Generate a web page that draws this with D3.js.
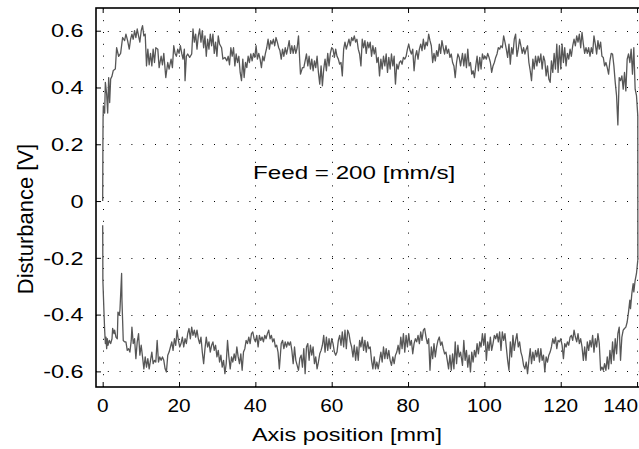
<!DOCTYPE html>
<meta charset="utf-8">
<script src="https://d3js.org/d3.v7.min.js"></script>
<style>
  body { margin: 0; background: #fff; }
  text { font-family: "Liberation Sans", Arial, sans-serif; fill: #000; }
</style>
<div id="my_dataviz"></div>
<script>
// Tick values
var xTicks = [0, 20, 40, 60, 80, 100, 120, 140];
var yTicks = [-0.6, -0.4, -0.2, 0, 0.2, 0.4, 0.6];

// Forward pass (upper trace): [axis position mm, disturbance V]
var upper = [
  [0.0,0.0],[0.05,0.18],[0.1,0.29],[0.17,0.335],[0.52,0.31],[0.70,0.418],[1.04,0.377],[1.31,0.31],
  [1.57,0.435],[1.83,0.347],[2.09,0.43],[2.44,0.44],[2.78,0.46],[3.31,0.465],[3.65,0.54],[4.18,0.51],
  [4.70,0.52],[5.22,0.576],[5.74,0.565],[6.09,0.588],[6.53,0.565],[6.96,0.535],[7.31,0.57],[7.66,0.588],
  [8.00,0.57],[8.35,0.6],[8.70,0.576],[9.05,0.606],[9.40,0.582],[9.74,0.56],[10.09,0.6],[10.44,0.618],
  [10.79,0.582],[11.14,0.588],[11.48,0.476],[11.83,0.535],[12.18,0.48],[12.53,0.52],[12.88,0.476],[13.22,0.535],
  [13.57,0.488],[13.92,0.54],[14.44,0.535],[14.79,0.47],[15.31,0.51],[15.66,0.48],[16.01,0.52],[16.53,0.435],
  [17.05,0.488],[17.40,0.465],[17.92,0.5],[18.27,0.47],[18.62,0.547],[18.97,0.52],[19.31,0.51],[19.66,0.535],
  [20.01,0.52],[20.36,0.547],[20.71,0.52],[21.05,0.5],[21.40,0.535],[21.58,0.424],[21.92,0.51],[22.27,0.518],
  [22.79,0.506],[23.32,0.518],[23.66,0.606],[24.01,0.56],[24.36,0.588],[24.71,0.535],[25.06,0.582],[25.40,0.606],
  [25.75,0.56],[26.10,0.6],[26.45,0.54],[26.80,0.582],[27.14,0.51],[27.49,0.57],[27.84,0.535],[28.19,0.588],
  [28.54,0.547],[28.88,0.588],[29.23,0.52],[29.58,0.56],[29.93,0.51],[30.28,0.582],[30.62,0.553],[31.15,0.54],
  [31.49,0.5],[32.02,0.506],[32.54,0.494],[32.89,0.51],[33.23,0.48],[33.58,0.54],[33.93,0.51],[34.28,0.54],
  [34.63,0.476],[34.97,0.518],[35.32,0.488],[35.67,0.51],[36.02,0.453],[36.37,0.424],[36.71,0.5],[37.06,0.435],
  [37.41,0.488],[37.76,0.47],[38.11,0.51],[38.45,0.488],[38.80,0.518],[39.15,0.494],[39.50,0.52],[39.85,0.506],
  [40.19,0.547],[40.54,0.5],[40.89,0.52],[41.24,0.5],[41.59,0.47],[41.93,0.51],[42.28,0.494],[42.63,0.52],
  [42.98,0.54],[43.33,0.57],[43.67,0.535],[44.02,0.565],[44.37,0.553],[44.72,0.57],[45.07,0.547],[45.41,0.576],
  [45.76,0.56],[46.11,0.54],[46.43,0.53],[46.78,0.5],[47.12,0.535],[47.47,0.51],[47.82,0.54],[48.17,0.518],
  [48.52,0.54],[48.86,0.565],[49.21,0.52],[49.56,0.547],[49.91,0.52],[50.26,0.547],[50.60,0.52],[50.95,0.54],
  [51.30,0.582],[51.65,0.488],[51.82,0.447],[52.34,0.47],[52.69,0.47],[53.04,0.494],[53.39,0.518],[53.74,0.476],
  [54.08,0.51],[54.43,0.465],[54.78,0.5],[55.13,0.459],[55.48,0.494],[55.82,0.47],[56.17,0.51],[56.52,0.453],
  [56.87,0.412],[57.22,0.476],[57.56,0.406],[57.91,0.465],[58.26,0.5],[58.61,0.459],[58.96,0.52],[59.30,0.476],
  [59.65,0.52],[60.00,0.54],[60.35,0.535],[60.70,0.506],[61.04,0.535],[61.39,0.51],[61.74,0.5],[62.09,0.482],
  [62.44,0.488],[62.78,0.441],[63.13,0.535],[63.48,0.56],[63.83,0.535],[64.18,0.553],[64.52,0.57],[64.87,0.547],
  [65.22,0.576],[65.57,0.565],[65.92,0.582],[66.26,0.56],[66.61,0.57],[66.96,0.535],[67.31,0.518],[67.66,0.476],
  [68.00,0.57],[68.35,0.54],[68.70,0.565],[69.05,0.52],[69.40,0.56],[69.74,0.54],[70.09,0.56],[70.44,0.51],
  [70.79,0.547],[71.14,0.518],[71.48,0.54],[71.83,0.488],[72.18,0.506],[72.53,0.441],[72.88,0.5],[73.22,0.465],
  [73.57,0.51],[73.92,0.476],[74.27,0.518],[74.62,0.453],[74.96,0.506],[75.31,0.465],[75.66,0.518],[76.01,0.476],
  [76.36,0.51],[76.53,0.453],[76.70,0.412],[77.05,0.482],[77.40,0.465],[77.75,0.488],[78.10,0.494],[78.44,0.482],
  [78.79,0.506],[79.14,0.5],[79.49,0.51],[79.84,0.535],[80.18,0.553],[80.53,0.53],[80.88,0.518],[81.23,0.535],
  [81.58,0.459],[81.92,0.51],[82.27,0.53],[82.62,0.5],[82.97,0.535],[83.32,0.553],[83.66,0.53],[84.01,0.57],
  [84.36,0.535],[84.71,0.56],[85.06,0.547],[85.40,0.588],[85.75,0.565],[86.10,0.547],[86.45,0.488],[86.80,0.52],
  [87.14,0.494],[87.49,0.53],[87.84,0.51],[88.19,0.553],[88.54,0.52],[88.88,0.565],[89.23,0.54],[89.58,0.518],
  [89.93,0.547],[90.28,0.52],[90.62,0.535],[90.97,0.506],[91.32,0.518],[91.67,0.488],[92.02,0.476],[92.36,0.435],
  [92.71,0.488],[93.06,0.518],[93.41,0.506],[93.76,0.476],[94.26,0.52],[94.61,0.476],[94.95,0.518],[95.30,0.47],
  [95.65,0.535],[96.00,0.476],[96.35,0.488],[96.69,0.447],[97.04,0.459],[97.39,0.435],[97.74,0.476],[98.09,0.51],
  [98.43,0.459],[98.78,0.506],[99.13,0.465],[99.48,0.518],[99.83,0.5],[100.17,0.51],[100.52,0.5],[100.87,0.52],
  [101.22,0.506],[101.57,0.488],[101.91,0.453],[102.26,0.476],[102.61,0.488],[102.96,0.506],[103.31,0.518],[103.65,0.54],
  [104.00,0.535],[104.35,0.547],[104.70,0.54],[105.05,0.582],[105.39,0.56],[105.74,0.535],[106.09,0.506],[106.44,0.553],
  [106.79,0.482],[107.13,0.54],[107.48,0.518],[107.83,0.57],[108.18,0.588],[108.53,0.51],[108.87,0.535],[109.22,0.57],
  [109.57,0.547],[109.92,0.52],[110.27,0.54],[110.61,0.518],[110.96,0.535],[111.31,0.547],[111.66,0.488],[112.01,0.459],
  [112.35,0.424],[112.70,0.5],[113.05,0.465],[113.40,0.51],[113.75,0.476],[114.09,0.51],[114.44,0.488],[114.79,0.518],
  [115.14,0.465],[115.49,0.51],[115.83,0.494],[116.18,0.441],[116.53,0.476],[116.88,0.43],[117.23,0.418],[117.57,0.494],
  [117.92,0.453],[118.27,0.52],[118.62,0.465],[118.97,0.553],[119.31,0.453],[119.66,0.547],[120.01,0.465],[120.36,0.553],
  [120.71,0.488],[121.05,0.54],[121.40,0.476],[121.75,0.52],[122.10,0.5],[122.45,0.535],[122.79,0.51],[123.14,0.547],
  [123.49,0.57],[123.84,0.547],[124.19,0.582],[124.53,0.56],[124.88,0.588],[125.23,0.54],[125.58,0.594],[125.93,0.553],
  [126.27,0.52],[126.62,0.54],[126.97,0.52],[127.32,0.54],[127.67,0.51],[128.01,0.54],[128.36,0.52],[128.71,0.582],
  [129.06,0.553],[129.41,0.518],[129.75,0.565],[130.10,0.535],[130.45,0.56],[130.80,0.51],[131.15,0.506],[131.49,0.476],
  [131.84,0.488],[132.19,0.47],[132.54,0.447],[132.89,0.494],[133.23,0.52],[133.58,0.518],[133.93,0.476],[134.28,0.418],
  [134.63,0.371],[134.97,0.268],[135.32,0.435],[135.67,0.424],[136.02,0.441],[136.37,0.394],[136.71,0.453],[137.06,0.388],
  [137.41,0.5],[137.76,0.518],[138.11,0.488],[138.45,0.535],[138.80,0.447],[139.15,0.54],[139.50,0.394],[139.85,0.371],
  [140.19,0.3],[140.21,-0.208]
];

// Return pass (lower trace): [axis position mm, disturbance V]
var lower = [
  [0.0,-0.085],[0.03,-0.18],[0.05,-0.279],[0.17,-0.326],[0.35,-0.396],[0.52,-0.455],[0.70,-0.502],[0.87,-0.479],
  [1.04,-0.520],[1.22,-0.485],[1.39,-0.508],[1.74,-0.491],[2.09,-0.502],[2.44,-0.485],[2.61,-0.449],[2.96,-0.467],
  [3.13,-0.455],[3.48,-0.479],[3.83,-0.485],[4.00,-0.391],[4.35,-0.402],[4.52,-0.385],[4.96,-0.255],[5.05,-0.349],
  [5.22,-0.420],[5.39,-0.491],[5.74,-0.496],[6.09,-0.496],[6.44,-0.526],[6.79,-0.520],[7.13,-0.532],[7.48,-0.491],
  [7.66,-0.444],[8.00,-0.502],[8.35,-0.485],[8.70,-0.555],[9.05,-0.496],[9.40,-0.467],[9.74,-0.543],[10.09,-0.508],
  [10.44,-0.549],[10.79,-0.591],[11.14,-0.549],[11.48,-0.585],[11.83,-0.555],[12.18,-0.591],[12.53,-0.561],[12.88,-0.532],
  [13.22,-0.573],[13.57,-0.561],[13.92,-0.567],[14.27,-0.491],[14.62,-0.567],[14.96,-0.549],[15.31,-0.561],[15.66,-0.549],
  [16.01,-0.561],[16.36,-0.591],[16.70,-0.602],[17.05,-0.543],[17.40,-0.532],[17.75,-0.514],[18.10,-0.496],[18.44,-0.526],
  [18.79,-0.485],[19.14,-0.508],[19.49,-0.455],[19.84,-0.491],[20.18,-0.514],[20.53,-0.502],[20.88,-0.479],[21.23,-0.514],
  [21.58,-0.485],[21.92,-0.502],[22.27,-0.467],[22.62,-0.449],[22.97,-0.485],[23.32,-0.444],[23.66,-0.473],[24.01,-0.455],
  [24.36,-0.479],[24.71,-0.455],[25.06,-0.485],[25.40,-0.502],[25.75,-0.479],[26.10,-0.532],[26.45,-0.573],[26.80,-0.520],
  [27.14,-0.479],[27.49,-0.514],[27.84,-0.496],[28.19,-0.532],[28.54,-0.508],[28.88,-0.496],[29.23,-0.526],[29.58,-0.508],
  [29.93,-0.549],[30.28,-0.526],[30.62,-0.567],[30.97,-0.543],[31.32,-0.585],[31.67,-0.561],[32.02,-0.608],[32.36,-0.573],
  [32.71,-0.491],[33.06,-0.549],[33.41,-0.591],[33.76,-0.549],[34.10,-0.567],[34.45,-0.538],[34.80,-0.561],[35.15,-0.514],
  [35.50,-0.549],[35.84,-0.573],[36.19,-0.538],[36.54,-0.596],[36.89,-0.532],[37.24,-0.520],[37.58,-0.491],[37.93,-0.502],
  [38.28,-0.479],[38.63,-0.502],[38.98,-0.467],[39.32,-0.461],[39.67,-0.485],[40.02,-0.496],[40.37,-0.473],[40.72,-0.514],
  [41.06,-0.473],[41.41,-0.491],[41.76,-0.479],[42.11,-0.496],[42.46,-0.473],[42.80,-0.485],[43.15,-0.467],[43.50,-0.455],
  [43.85,-0.485],[44.20,-0.473],[44.54,-0.496],[44.89,-0.485],[45.24,-0.514],[45.59,-0.508],[45.94,-0.532],[46.28,-0.591],
  [46.78,-0.502],[47.12,-0.491],[47.47,-0.520],[47.82,-0.496],[48.17,-0.514],[48.52,-0.496],[48.86,-0.508],[49.21,-0.496],
  [49.56,-0.526],[49.91,-0.573],[50.26,-0.514],[50.60,-0.561],[50.95,-0.579],[51.30,-0.596],[51.65,-0.555],[52.00,-0.543],
  [52.34,-0.585],[52.69,-0.520],[53.04,-0.608],[53.39,-0.514],[53.74,-0.502],[54.08,-0.561],[54.43,-0.508],[54.78,-0.543],
  [55.13,-0.514],[55.48,-0.573],[55.82,-0.549],[56.17,-0.591],[56.52,-0.567],[56.87,-0.538],[57.22,-0.526],[57.56,-0.508],
  [57.91,-0.473],[58.26,-0.532],[58.61,-0.479],[58.96,-0.526],[59.30,-0.485],[59.65,-0.520],[60.00,-0.485],[60.35,-0.502],
  [60.70,-0.532],[61.04,-0.543],[61.39,-0.532],[61.74,-0.491],[62.09,-0.473],[62.44,-0.508],[62.78,-0.461],[63.13,-0.514],
  [63.48,-0.455],[63.83,-0.520],[64.18,-0.455],[64.52,-0.467],[64.87,-0.496],[65.22,-0.514],[65.57,-0.549],[65.92,-0.508],
  [66.26,-0.561],[66.61,-0.514],[66.96,-0.561],[67.31,-0.491],[67.66,-0.514],[68.00,-0.479],[68.35,-0.526],[68.70,-0.491],
  [69.05,-0.532],[69.40,-0.496],[69.74,-0.520],[70.09,-0.514],[70.44,-0.561],[70.79,-0.591],[71.14,-0.549],[71.48,-0.591],
  [71.83,-0.567],[72.18,-0.591],[72.53,-0.561],[72.88,-0.532],[73.22,-0.567],[73.57,-0.514],[73.92,-0.555],[74.27,-0.520],
  [74.62,-0.555],[74.96,-0.526],[75.31,-0.561],[75.66,-0.579],[76.01,-0.549],[76.36,-0.573],[76.70,-0.543],[77.05,-0.532],
  [77.40,-0.508],[77.75,-0.538],[78.10,-0.479],[78.44,-0.520],[78.79,-0.467],[79.14,-0.532],[79.49,-0.473],[79.84,-0.514],
  [80.18,-0.467],[80.53,-0.508],[80.88,-0.491],[81.23,-0.538],[81.58,-0.502],[81.92,-0.485],[82.27,-0.496],[82.62,-0.473],
  [82.97,-0.502],[83.32,-0.461],[83.66,-0.491],[84.01,-0.455],[84.36,-0.449],[84.71,-0.479],[85.06,-0.502],[85.40,-0.485],
  [85.75,-0.596],[86.10,-0.514],[86.45,-0.555],[86.80,-0.502],[87.14,-0.549],[87.49,-0.514],[87.84,-0.491],[88.19,-0.479],
  [88.54,-0.508],[88.88,-0.496],[89.23,-0.520],[89.58,-0.538],[89.93,-0.532],[90.28,-0.561],[90.62,-0.591],[90.97,-0.543],
  [91.32,-0.596],[91.67,-0.538],[92.02,-0.591],[92.36,-0.496],[92.71,-0.573],[93.06,-0.508],[93.41,-0.549],[93.76,-0.532],
  [94.26,-0.579],[94.61,-0.491],[94.95,-0.561],[95.30,-0.526],[95.65,-0.585],[96.00,-0.543],[96.35,-0.602],[96.69,-0.532],
  [97.04,-0.567],[97.39,-0.526],[97.74,-0.549],[98.09,-0.502],[98.43,-0.538],[98.78,-0.496],[99.13,-0.514],[99.48,-0.467],
  [99.83,-0.508],[100.17,-0.467],[100.52,-0.561],[100.87,-0.496],[101.22,-0.526],[101.57,-0.479],[101.91,-0.526],[102.26,-0.502],
  [102.61,-0.473],[102.96,-0.485],[103.31,-0.467],[103.65,-0.496],[104.00,-0.461],[104.35,-0.526],[104.70,-0.461],[105.05,-0.491],
  [105.39,-0.467],[105.74,-0.514],[106.09,-0.561],[106.44,-0.596],[106.79,-0.496],[107.13,-0.549],[107.48,-0.473],[107.83,-0.526],
  [108.18,-0.491],[108.53,-0.467],[108.87,-0.514],[109.22,-0.496],[109.57,-0.532],[109.92,-0.549],[110.27,-0.579],[110.61,-0.591],
  [110.96,-0.567],[111.31,-0.608],[111.66,-0.561],[112.01,-0.520],[112.35,-0.573],[112.70,-0.532],[113.05,-0.561],[113.40,-0.526],
  [113.75,-0.549],[114.09,-0.520],[114.44,-0.567],[114.79,-0.520],[115.14,-0.561],[115.49,-0.543],[115.83,-0.602],[116.18,-0.549],
  [116.53,-0.567],[116.88,-0.543],[117.23,-0.532],[117.57,-0.514],[117.92,-0.485],[118.27,-0.502],[118.62,-0.479],[118.97,-0.520],
  [119.31,-0.491],[119.66,-0.496],[120.01,-0.485],[120.36,-0.508],[120.71,-0.555],[121.05,-0.502],[121.40,-0.514],[121.75,-0.496],
  [122.10,-0.508],[122.45,-0.479],[122.79,-0.473],[123.14,-0.491],[123.49,-0.455],[123.84,-0.479],[124.19,-0.496],[124.53,-0.467],
  [124.88,-0.502],[125.23,-0.485],[125.58,-0.514],[125.93,-0.561],[126.27,-0.514],[126.62,-0.561],[126.97,-0.496],[127.32,-0.526],
  [127.67,-0.491],[128.01,-0.514],[128.36,-0.473],[128.71,-0.532],[129.06,-0.485],[129.41,-0.514],[129.75,-0.467],[130.10,-0.502],
  [130.45,-0.596],[130.80,-0.585],[131.15,-0.596],[131.49,-0.573],[131.84,-0.596],[132.19,-0.549],[132.54,-0.591],[132.89,-0.526],
  [133.23,-0.573],[133.58,-0.496],[133.93,-0.561],[134.28,-0.485],[134.63,-0.538],[134.97,-0.467],[135.32,-0.444],[135.67,-0.561],
  [136.02,-0.479],[136.37,-0.455],[136.71,-0.449],[137.06,-0.444],[137.41,-0.426],[137.76,-0.391],[138.11,-0.349],[138.28,-0.379],
  [138.63,-0.326],[138.98,-0.291],[139.15,-0.320],[139.50,-0.279],[139.85,-0.255],[140.19,-0.208]
];

// Frame of the axes (the right side runs past the picture edge)
var W = 639, H = 449;
var box = {left: 96, right: 644.7, top: 8, bottom: 387};
var sx = 1.26; // text in the picture is stretched sideways

var svg = d3.select("#my_dataviz")
  .append("svg")
    .attr("width", W)
    .attr("height", H);

var x = d3.scaleLinear().domain([-1.75, 142]).range([box.left, box.right]);
var y = d3.scaleLinear().domain([-0.655, 0.68]).range([box.bottom, box.top]);

// Dotted grid
svg.append("g").selectAll("line").data(yTicks).join("line")
  .attr("x1", box.left).attr("x2", box.right)
  .attr("y1", d => Math.round(y(d)) + 0.5).attr("y2", d => Math.round(y(d)) + 0.5)
  .attr("stroke", "#000").attr("stroke-dasharray", "1,10.8");
svg.append("g").selectAll("line").data(xTicks).join("line")
  .attr("y1", box.bottom).attr("y2", box.top)
  .attr("x1", d => Math.round(x(d)) + 0.5).attr("x2", d => Math.round(x(d)) + 0.5)
  .attr("stroke", "#000").attr("stroke-dasharray", "1,10.8");

// Data
var line = d3.line().x(d => x(d[0])).y(d => y(d[1]));
[upper, lower].forEach(function(s) {
  svg.append("path")
    .datum(s)
    .attr("fill", "none")
    .attr("stroke", "#575757")
    .attr("stroke-width", 1.3)
    .attr("stroke-linejoin", "round")
    .attr("d", line);
});

// Ticks pointing inward
svg.append("g").attr("transform", "translate(0," + box.bottom + ")")
  .call(d3.axisBottom(x).tickValues(xTicks).tickSize(-5).tickFormat(""));
svg.append("g").attr("transform", "translate(0," + box.top + ")")
  .call(d3.axisTop(x).tickValues(xTicks).tickSize(-5).tickFormat(""));
svg.append("g").attr("transform", "translate(" + box.left + ",0)")
  .call(d3.axisLeft(y).tickValues(yTicks).tickSize(-5).tickFormat(""));
svg.selectAll(".domain").remove();
svg.selectAll(".tick line").attr("stroke", "#000");

// Box
svg.append("rect")
  .attr("x", box.left).attr("y", box.top)
  .attr("width", box.right - box.left).attr("height", box.bottom - box.top)
  .attr("fill", "none").attr("stroke", "#000").attr("stroke-width", 1.6);

// Tick labels
svg.append("g").selectAll("text").data(yTicks).join("text")
  .attr("transform", d => "translate(83.5," + y(d) + ") scale(" + sx + ",1)")
  .attr("text-anchor", "end").attr("dy", "0.36em")
  .style("font-size", "18.6px")
  .text(d => String(+d.toFixed(1)));
// the last label is right-aligned so it stays inside the picture
var xLast = xTicks[xTicks.length - 1];
svg.append("g").selectAll("text").data(xTicks).join("text")
  .attr("transform", d => "translate(" + (d === xLast ? 638 : x(d)) + ",412) scale(1.12,1)")
  .attr("text-anchor", d => d === xLast ? "end" : "middle")
  .style("font-size", "18.6px")
  .text(d => d);

// Labels
svg.append("text")
  .attr("transform", "translate(347,441) scale(" + sx + ",1)")
  .attr("text-anchor", "middle").style("font-size", "18.6px")
  .text("Axis position [mm]");
svg.append("text")
  .attr("transform", "translate(33,219) rotate(-90)")
  .attr("text-anchor", "middle").style("font-size", "22px")
  .text("Disturbance [V]");
svg.append("text")
  .attr("transform", "translate(253,179) scale(1.3,1)")
  .style("font-size", "18.6px")
  .text("Feed = 200 [mm/s]");
</script>
